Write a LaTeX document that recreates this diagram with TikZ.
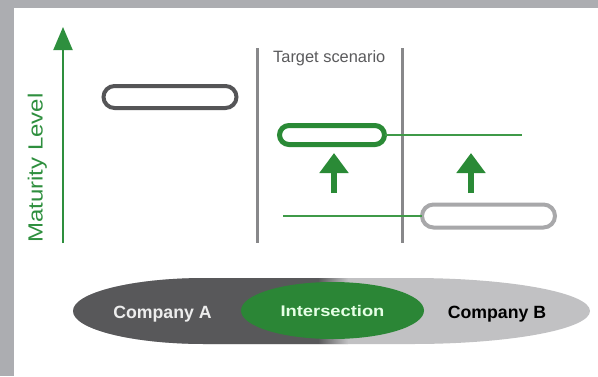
\documentclass[tikz,border=0pt]{standalone}
\usepackage{fontspec}
\setmainfont{Liberation Sans}
\usetikzlibrary{shapes.misc,shapes.geometric,arrows.meta}
\definecolor{framegray}{HTML}{ACADB1}
\definecolor{axisgreen}{HTML}{2E8F3E}
\definecolor{pillgreen}{HTML}{2A8A36}
\definecolor{linegreen}{HTML}{3F9A48}
\definecolor{darkpill}{HTML}{555557}
\definecolor{lightpill}{HTML}{A8A8AA}
\definecolor{vlinegray}{HTML}{88888A}
\definecolor{bandA}{HTML}{58585A}
\definecolor{bandB}{HTML}{C1C1C3}
\definecolor{intergreen}{HTML}{2B8636}
\definecolor{targetgray}{HTML}{5A5A5C}
\begin{document}
\begin{tikzpicture}[x=1pt,y=-1pt,
  pill/.style={rounded rectangle, inner sep=0pt, outer sep=0pt, fill=white},
  vsep/.style={draw=vlinegray, line width=3pt},
  thinlink/.style={draw=linegreen, line width=1.5pt},
  uparrow/.style={draw=pillgreen, line width=6.7pt, -{Triangle[width=28pt,length=20pt]}},
  cotext/.style={font=\fontsize{17.7}{20}\selectfont\bfseries, inner sep=0pt, anchor=base}
]
\useasboundingbox (0,0) rectangle (598,376);
\fill[framegray] (0,0) rectangle (598,376);
\fill[white] (14,8) rectangle (598,376);

% maturity axis
\coordinate (axb) at (63,243);
\coordinate (axt) at (63,27);
\draw[axisgreen, line width=2pt, -{Triangle[width=19pt,length=23pt]}] (axb) -- (axt);
\node[rotate=90, text=axisgreen, inner sep=0pt, font=\fontsize{20.5}{24}\selectfont] (ml) at (37.2,168) {\scalebox{1.17}[1]{Maturity Level}};

% separators
\coordinate (v1t) at (257,48);
\coordinate (v1b) at (257,243);
\coordinate (v2t) at (402,48);
\coordinate (v2b) at (402,243);
\draw[vsep] (v1t) -- (v1b);
\draw[vsep] (v2t) -- (v2b);

\node[anchor=base west, inner sep=0pt, text=targetgray, font=\fontsize{16.4}{19}\selectfont] (ts) at (273,62) {Target scenario};

% pills
\node[pill, draw=darkpill, line width=4pt, minimum width=133pt, minimum height=22pt] (p1) at (170,97) {};
\node[pill, draw=pillgreen, line width=5pt, minimum width=105pt, minimum height=19pt] (gp) at (332,135) {};
\node[pill, draw=lightpill, line width=4pt, minimum width=133pt, minimum height=23pt] (p2) at (488.5,216) {};

\coordinate (gl1) at (522,135);
\coordinate (gl2) at (283,216);
\draw[thinlink] (gp.east) -- (gl1);
\draw[thinlink] (gl2) -- (p2.west);

% up arrows
\coordinate (a1b) at (334,193);
\coordinate (a1t) at (334,153);
\coordinate (a2b) at (471,193);
\coordinate (a2t) at (471,153);
\draw[uparrow] (a1b) -- (a1t);
\draw[uparrow] (a2b) -- (a2t);

% band
\def\bandpath{(73,311) arc[start angle=180, end angle=270, x radius=132, y radius=33]
  -- (412,278) arc[start angle=270, end angle=360, x radius=178, y radius=33]
  arc[start angle=0, end angle=90, x radius=178, y radius=33]
  -- (205,344) arc[start angle=90, end angle=180, x radius=132, y radius=33] -- cycle}
\fill[bandB] \bandpath;
\begin{scope}
\clip \bandpath;
\fill[bandA] (60,270) rectangle (318,350);
\shade[left color=bandA, right color=bandB] (318,270) rectangle (348,350);
\end{scope}

\node[ellipse, fill=intergreen, inner sep=0pt, minimum width=183pt, minimum height=57pt,
  text=white!90!green, font=\fontsize{15.4}{18}\selectfont\bfseries] (inter) at (332.5,310.5) {\scalebox{1.19}[1]{Intersection}};
\node[cotext, text=white!93!black] (ca) at (162.5,318.3) {Company A};
\node[cotext, text=black] (cb) at (497,318.4) {Company B};
\end{tikzpicture}
\end{document}
